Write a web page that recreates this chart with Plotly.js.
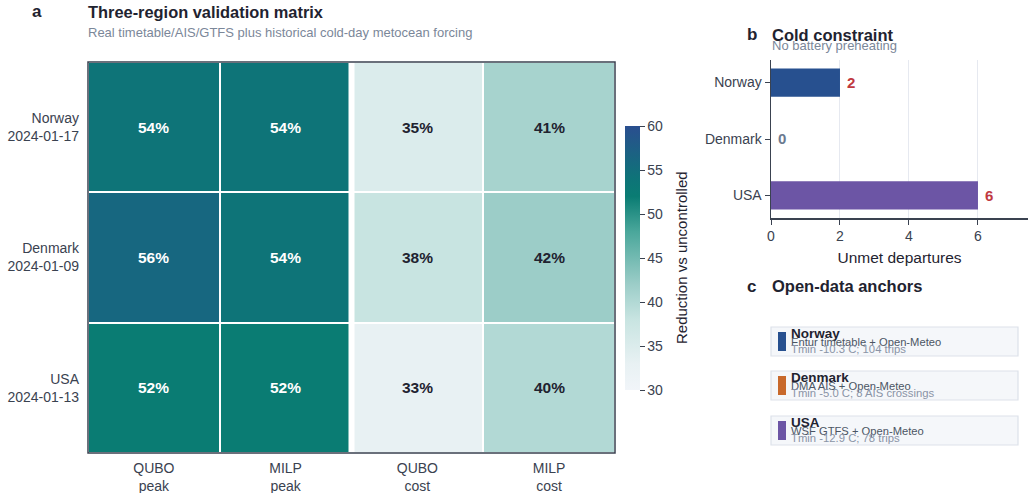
<!DOCTYPE html>
<html>
<head>
<meta charset="utf-8">
<script src="https://cdn.plot.ly/plotly-3.0.1.min.js"></script>
<style>
  html, body { margin: 0; padding: 0; background: #ffffff; }
  #fig { width: 1030px; height: 493px; }
</style>
</head>
<body>
<div id="fig"></div>
<script>
// Panel a: reduction vs uncontrolled (%) per region and method/objective
const matrixColumns = ['QUBO<br>peak', 'MILP<br>peak', 'QUBO<br>cost', 'MILP<br>cost'];
const matrixRows = ['Norway<br>2024-01-17', 'Denmark<br>2024-01-09', 'USA<br>2024-01-13'];
const norwayReduction = [54, 54, 35, 41];
const denmarkReduction = [56, 54, 38, 42];
const usaReduction = [52, 52, 33, 40];
const colorbarTicks = [30, 35, 40, 45, 50, 55, 60];

// Panel b: unmet departures without battery preheating
const regions = ['Norway', 'Denmark', 'USA'];
const unmetDepartures = [2, 0, 6];
const unmetTicks = [0, 2, 4, 6];

// Panel c: open-data sources per region
const sourceLines = ['Entur timetable + Open-Meteo', 'DMA AIS + Open-Meteo', 'WSF GTFS + Open-Meteo'];
const weatherLines = ['Tmin -10.3 C; 104 trips', 'Tmin -5.0 C; 8 AIS crossings', 'Tmin -12.9 C; 78 trips'];

const regionColors = ['#27508f', '#c8692c', '#6c55a5'];
const W = 1030, H = 493;
const px = x => x / W;
const py = y => 1 - y / H;
const FONT = 'Liberation Sans, Arial, Helvetica, sans-serif';
const INK = '#1f2330';
const AXIS = '#3a4250';

const zRows = [norwayReduction, denmarkReduction, usaReduction];

const colorscale = [
  [0.0, '#f1f5f9'],
  [0.1, '#e8f1f3'],
  [0.267, '#c8e4e1'],
  [0.333, '#b2d9d5'],
  [0.4, '#9ccdc8'],
  [0.6, '#4aa79b'],
  [0.733, '#0a7c73'],
  [0.8, '#0e7478'],
  [1.0, '#2a4e8f']
];

const heat = {
  type: 'heatmap',
  x: matrixColumns,
  y: matrixRows,
  z: zRows,
  zmin: 30, zmax: 60,
  colorscale: colorscale,
  xgap: 2, ygap: 2,
  xaxis: 'x', yaxis: 'y',
  hoverinfo: 'skip',
  colorbar: {
    x: px(625), xanchor: 'left',
    y: py(258), yanchor: 'middle',
    lenmode: 'pixels', len: 264,
    thickness: 15, thicknessmode: 'pixels',
    xpad: 0, ypad: 0,
    outlinewidth: 0,
    tickvals: colorbarTicks,
    ticks: 'outside', ticklen: 5, tickcolor: AXIS,
    tickfont: { family: FONT, size: 14, color: AXIS }
  }
};

const bars = {
  type: 'bar',
  orientation: 'h',
  x: unmetDepartures,
  y: regions,
  width: 0.5,
  marker: { color: regionColors, line: { width: 0 } },
  xaxis: 'x2', yaxis: 'y2',
  hoverinfo: 'skip'
};

const annotations = [];

// cell values
zRows.forEach((row, i) => {
  row.forEach((v, j) => {
    annotations.push({
      x: matrixColumns[j], y: matrixRows[i], xref: 'x', yref: 'y',
      text: '<b>' + v + '%</b>', showarrow: false,
      font: { family: FONT, size: 15.5, color: v >= 45 ? '#ffffff' : INK }
    });
  });
});

// bar value labels
unmetDepartures.forEach((v, i) => {
  annotations.push({
    x: v, y: regions[i], xref: 'x2', yref: 'y2',
    xanchor: 'left', xshift: 5, showarrow: false,
    text: '<b>' + v + '</b>',
    font: { family: FONT, size: 15, color: v > 0 ? '#c0393f' : '#6b7a90' }
  });
});

function label(x, y, text, size, color, anchor, angle) {
  annotations.push({
    x: px(x), y: py(y), xref: 'paper', yref: 'paper',
    xanchor: anchor || 'left', yanchor: 'middle', showarrow: false,
    textangle: angle || 0,
    text: text, font: { family: FONT, size: size, color: color }
  });
}

// colorbar title
label(681, 258, 'Reduction vs uncontrolled', 15, INK, 'center', -90);

// panel headings
label(37, 12, '<b>a</b>', 17, INK, 'center');
label(86, 12, '<b>Three-region validation matrix</b>', 16.4, INK);
label(86, 33, 'Real timetable/AIS/GTFS plus historical cold-day metocean forcing', 13, '#7b8799');
label(752, 35, '<b>b</b>', 17, INK, 'center');
label(770, 35, '<b>Cold constraint</b>', 16.5, INK);
label(770, 46, 'No battery preheating', 13, '#7b8799');
label(751, 286, '<b>c</b>', 17, INK, 'center');
label(770, 286, '<b>Open-data anchors</b>', 16.5, INK);

const shapes = [
  // wider white separator between peak and cost objectives
  { type: 'line', xref: 'x', yref: 'y domain', x0: 1.5, x1: 1.5, y0: 0, y1: 1,
    line: { color: '#ffffff', width: 6 }, layer: 'above' },
  // frame around the matrix
  { type: 'rect', xref: 'x domain', yref: 'y domain', x0: 0, x1: 1, y0: 0, y1: 1,
    line: { color: AXIS, width: 1.5 }, layer: 'above' }
];

// panel c cards
const cardTops = [327, 371, 416];
regions.forEach((r, i) => {
  const t = cardTops[i];
  shapes.push({ type: 'rect', xref: 'paper', yref: 'paper',
    x0: px(771), x1: px(1018), y0: py(t), y1: py(t + 29),
    fillcolor: '#f5f7fa', line: { color: '#dde2ea', width: 1.2 }, layer: 'below' });
  shapes.push({ type: 'rect', xref: 'paper', yref: 'paper',
    x0: px(778), x1: px(786), y0: py(t + 5), y1: py(t + 24),
    fillcolor: regionColors[i], line: { width: 0 } });
  label(789, t + 6.5, '<b>' + r + '</b>', 13.5, INK);
  label(789, t + 14.5, sourceLines[i], 11.2, '#4b5563');
  label(789, t + 22, weatherLines[i], 11.3, '#8a94a6');
});

const layout = {
  width: W, height: H,
  margin: { l: 0, r: 0, t: 0, b: 0 },
  paper_bgcolor: '#ffffff', plot_bgcolor: '#ffffff',
  font: { family: FONT, color: AXIS },
  showlegend: false,
  xaxis: {
    domain: [px(88), px(615)],
    anchor: 'y',
    showgrid: false, zeroline: false,
    ticks: '', ticklabelstandoff: 5,
    tickfont: { family: FONT, size: 14, color: AXIS },
    fixedrange: true
  },
  yaxis: {
    domain: [py(453), py(62)],
    anchor: 'x',
    autorange: 'reversed',
    showgrid: false, zeroline: false,
    ticks: '', ticklabelstandoff: 8,
    tickfont: { family: FONT, size: 14, color: AXIS },
    fixedrange: true
  },
  xaxis2: {
    domain: [px(771), px(1028)],
    anchor: 'y2',
    range: [0, 7.45],
    tickvals: unmetTicks,
    showgrid: true, gridcolor: '#e6e9f0', gridwidth: 1,
    zeroline: false,
    showline: true, linecolor: AXIS, linewidth: 1.5,
    ticks: 'outside', ticklen: 5, tickcolor: AXIS,
    tickfont: { family: FONT, size: 14, color: AXIS },
    title: { text: 'Unmet departures', standoff: 9, font: { family: FONT, size: 15.5, color: INK } },
    fixedrange: true
  },
  yaxis2: {
    domain: [py(218), py(60)],
    anchor: 'x2',
    range: [2.4, -0.4],
    type: 'category',
    showgrid: false, zeroline: false,
    showline: true, linecolor: AXIS, linewidth: 1.5,
    ticks: 'outside', ticklen: 5, tickcolor: AXIS,
    tickfont: { family: FONT, size: 14, color: AXIS },
    fixedrange: true
  },
  annotations: annotations,
  shapes: shapes
};

Plotly.newPlot('fig', [heat, bars], layout, { displayModeBar: false, staticPlot: true });
</script>
</body>
</html>
